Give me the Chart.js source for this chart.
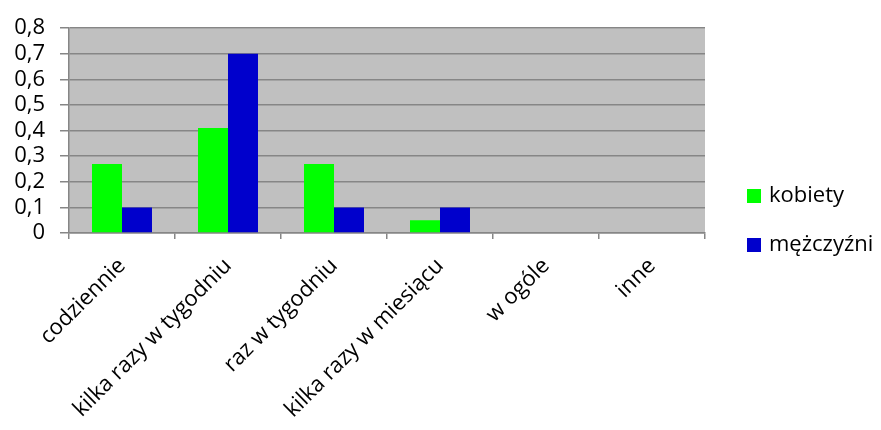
<!DOCTYPE html>
<html>
<head>
<meta charset="utf-8">
<script src="https://cdn.jsdelivr.net/npm/chart.js@4"></script>
<style>
  html, body { margin: 0; padding: 0; background: #ffffff; }
  #wrap { width: 881px; height: 430px; position: relative; }
</style>
</head>
<body>
<div id="wrap"><canvas id="c" width="881" height="430"></canvas></div>
<script>
// Categories and series
const categories = ['codziennie', 'kilka razy w tygodniu', 'raz w tygodniu', 'kilka razy w miesiącu', 'w ogóle', 'inne'];
const kobiety = [0.27, 0.41, 0.27, 0.05, 0, 0];
const mezczyzni = [0.1, 0.7, 0.1, 0.1, 0, 0];
const seriesNames = ['kobiety', 'mężczyźni'];
const seriesColors = ['#00ff00', '#0000cc'];

const FONT = "'Open Sans', sans-serif";
const GRID = '#868686';

// Grey plot background
const plotBackground = {
  id: 'plotBackground',
  beforeDraw(chart) {
    const { ctx, chartArea: a } = chart;
    ctx.save();
    ctx.fillStyle = '#c0c0c0';
    ctx.fillRect(a.left, a.top, a.right - a.left, a.bottom - a.top);
    ctx.restore();
  }
};

// Legend on the right, square markers
const sideLegend = {
  id: 'sideLegend',
  afterDraw(chart) {
    const { ctx } = chart;
    ctx.save();
    ctx.font = '22px ' + FONT;
    ctx.textBaseline = 'middle';
    ctx.textAlign = 'left';
    chart.data.datasets.forEach((ds, i) => {
      const cy = 196 + i * 49;
      ctx.fillStyle = ds.backgroundColor;
      ctx.fillRect(747, cy - 7, 14, 14);
      ctx.fillStyle = '#000000';
      ctx.fillText(ds.label, 769, cy);
    });
    ctx.restore();
  }
};

new Chart(document.getElementById('c'), {
  type: 'bar',
  data: {
    labels: categories,
    datasets: [
      { label: seriesNames[0], data: kobiety, backgroundColor: seriesColors[0], borderWidth: 0 },
      { label: seriesNames[1], data: mezczyzni, backgroundColor: seriesColors[1], borderWidth: 0 }
    ]
  },
  options: {
    responsive: false,
    animation: false,
    events: [],
    layout: { padding: { left: 0, top: 20, right: 176, bottom: 0 } },
    datasets: { bar: { categoryPercentage: 0.566, barPercentage: 1.0 } },
    plugins: { legend: { display: false }, tooltip: { enabled: false } },
    scales: {
      x: {
        offset: true,
        grid: { display: true, drawOnChartArea: false, drawTicks: true, tickLength: 6, color: GRID, lineWidth: 1.5, offset: true },
        border: { display: true, color: GRID, width: 1.5 },
        ticks: {
          color: '#000000',
          font: { family: FONT, size: 22 },
          minRotation: 45, maxRotation: 45,
          padding: 14,
          autoSkip: false
        },
        afterFit(scale) { scale.height = 197; }
      },
      y: {
        min: 0, max: 0.8,
        grid: { color: GRID, lineWidth: 1.5, drawTicks: true, tickLength: 9 },
        border: { display: true, color: GRID, width: 1.5 },
        ticks: {
          stepSize: 0.1,
          autoSkip: false,
          color: '#000000',
          font: { family: FONT, size: 22 },
          padding: 15,
          callback: (v) => (Math.round(v * 10) / 10).toString().replace('.', ',')
        },
        afterFit(scale) { scale.width = 69; }
      }
    }
  },
  plugins: [plotBackground, sideLegend]
});
</script>
</body>
</html>
